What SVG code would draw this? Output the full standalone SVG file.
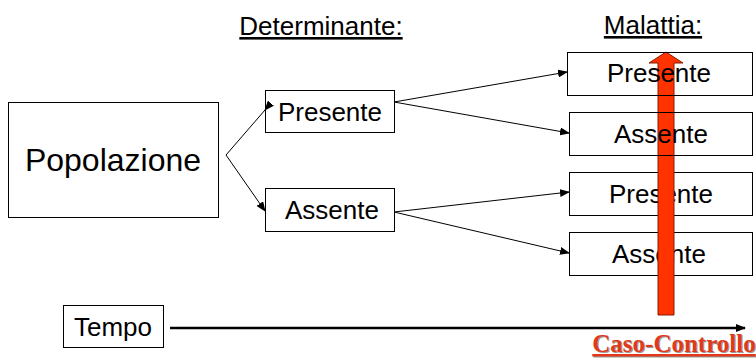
<svg xmlns="http://www.w3.org/2000/svg" width="756" height="359" viewBox="0 0 756 359">
<defs>
<style>
.box{fill:none;stroke:#000;stroke-width:1}
.wbox{fill:#fff;stroke:#000;stroke-width:1}
.t{font-family:"Liberation Sans",Arial,sans-serif;fill:#000;text-anchor:middle;font-size:26px}
.c{stroke:#000;stroke-width:1;fill:none}
</style>
<marker id="ah" markerWidth="10" markerHeight="8" refX="9" refY="4" orient="auto" markerUnits="userSpaceOnUse">
<path d="M0,0 L10,4 L0,8 z" fill="#000"/>
</marker>
</defs>
<rect width="756" height="359" fill="#fff"/>
<g id="headers">
<text class="t" x="321" y="35" text-decoration="underline">Determinante:</text>
<text class="t" x="653" y="34" text-decoration="underline">Malattia:</text>
</g>
<g id="popolazione">
<rect class="wbox" x="8.5" y="102.5" width="210" height="115"/>
<text class="t" x="113" y="171" style="font-size:32px">Popolazione</text>
</g>
<g id="det-presente">
<rect class="wbox" x="265.5" y="90.5" width="129" height="42"/>
<text class="t" x="330" y="121">Presente</text>
</g>
<g id="det-assente">
<rect class="wbox" x="265.5" y="188.5" width="129" height="43"/>
<text class="t" x="332" y="219">Assente</text>
</g>
<g id="m3">
<rect class="wbox" x="569.5" y="172.5" width="183" height="43"/>
<text class="t" x="661" y="203">Presente</text>
</g>
<g id="m4">
<rect class="wbox" x="569.5" y="232.5" width="183" height="43"/>
<text class="t" x="659" y="263">Assente</text>
</g>
<g id="tempo">
<rect class="wbox" x="63.5" y="305.5" width="100" height="42"/>
<text class="t" x="113" y="336">Tempo</text>
</g>
<g id="connectors">
<polyline class="c" points="265,110 226,155 265,211" marker-start="url(#ah)" marker-end="url(#ah)"/>
<line class="c" x1="394" y1="102" x2="567" y2="72" marker-end="url(#ah)"/>
<line class="c" x1="394" y1="102" x2="569" y2="133" marker-end="url(#ah)"/>
<line class="c" x1="394" y1="212" x2="569" y2="192" marker-end="url(#ah)"/>
<line class="c" x1="394" y1="212" x2="569" y2="253" marker-end="url(#ah)"/>
<line x1="170" y1="328" x2="745" y2="328" stroke="#000" stroke-width="2.5" marker-end="url(#ah)"/>
</g>
<g id="red-arrow">
<path d="M658,315 L658,63 L649,63 L666,52 L683,63 L674,63 L674,315 z" fill="#FF3300" stroke="#8a1a00" stroke-width="1"/>
</g>
<g id="m1">
<rect class="box" x="567.5" y="52.5" width="185" height="43"/>
<text class="t" x="659" y="82">Presente</text>
</g>
<g id="m2">
<rect class="box" x="569.5" y="112.5" width="183" height="43"/>
<text class="t" x="661" y="143">Assente</text>
</g>
<g id="caso">
<text x="675" y="353" font-family="'Liberation Serif','Times New Roman',serif" font-size="25" font-weight="bold" fill="#999" text-anchor="middle" text-decoration="underline">Caso-Controllo</text>
<text x="674" y="352" font-family="'Liberation Serif','Times New Roman',serif" font-size="25" font-weight="bold" fill="#E03A1A" text-anchor="middle" text-decoration="underline">Caso-Controllo</text>
</g>
</svg>
